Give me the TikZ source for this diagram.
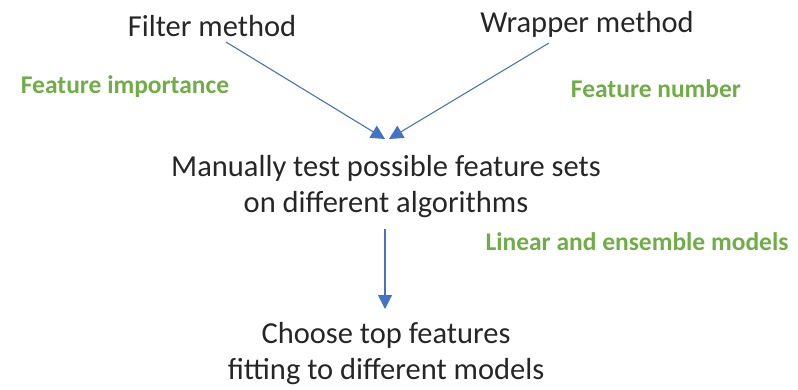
\documentclass[tikz,border=0pt]{standalone}
\usepackage{fontspec}
\setmainfont{Carlito}
\usetikzlibrary{arrows.meta}
\definecolor{arrowblue}{RGB}{68,114,196}
\definecolor{labelgreen}{RGB}{112,173,71}
\definecolor{stepgray}{RGB}{38,38,38}
\begin{document}
\begin{tikzpicture}[x=1pt,y=-1pt,
    step text/.style={font=\fontsize{30.5}{36}\selectfont, align=center, text=stepgray},
    hint/.style={font=\bfseries\fontsize{25.5}{30}\selectfont, text=labelgreen},
    flow/.style={draw=arrowblue, line width=1.1pt, -{Triangle[length=14pt,width=14pt]}}
]
  \useasboundingbox (0,0) rectangle (798,389);

  \node[step text] (filter) at (212,26) {Filter method};
  \node[step text] (wrapper) at (587,24) {Wrapper method};
  \node[step text] (test) at (386,187) {Manually test possible feature sets\\on different algorithms};
  \node[step text] (choose) at (386,354) {Choose top features\\fitting to different models};

  \node[hint] (importance) at (125,87) {Feature importance};
  \node[hint] (number) at (656,89) {Feature number};
  \node[hint] (models) at (637,242) {Linear and ensemble models};

  \coordinate (filterend) at (226,42);
  \coordinate (wrapperend) at (549,43);
  \coordinate (leftin) at (385,139);
  \coordinate (rightin) at (389,139);
  \coordinate (downstart) at (385,229);
  \coordinate (downend) at (385,309);

  \draw[flow] (filterend) -- (leftin);
  \draw[flow] (wrapperend) -- (rightin);
  \draw[flow] (downstart) -- (downend);
\end{tikzpicture}
\end{document}
